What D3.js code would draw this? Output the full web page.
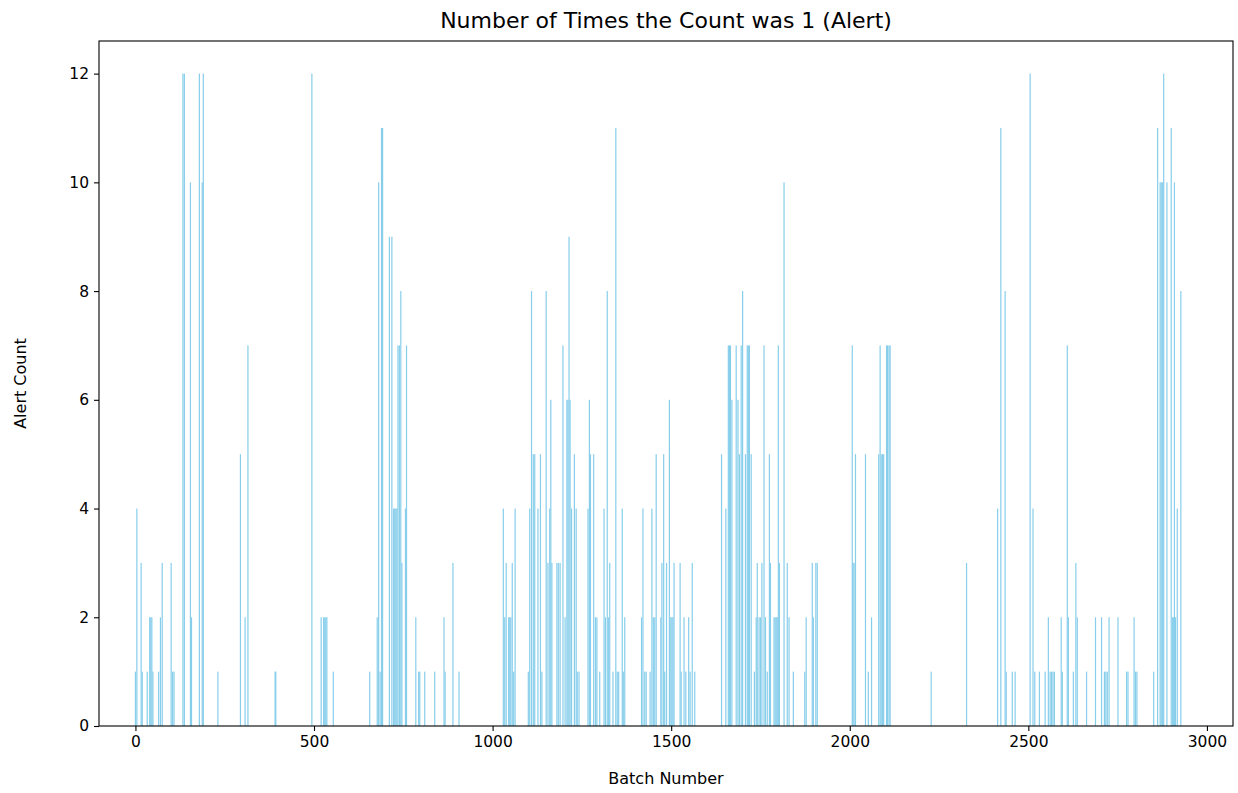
<!DOCTYPE html>
<html>
<head>
<meta charset="utf-8">
<script src="https://cdn.jsdelivr.net/npm/d3@7"></script>
<style>
  body { margin: 0; background: #fff; }
  text { font-family: "DejaVu Sans", sans-serif; }
</style>
</head>
<body>
<script>
// batch numbers and how many alerts each had
const batches = [
  0, 4, 16, 19, 33, 40, 43, 46, 49, 65, 70, 75, 100, 104, 108, 133, 137, 154, 157, 179, 187, 190,
  231, 294, 307, 315, 391, 393, 494, 520, 527, 530, 533, 536, 554,
  656, 677, 681, 685, 689, 692, 711, 718, 723, 726, 729, 732, 735, 739, 743, 746, 756, 759, 785, 793, 796, 810, 838, 864, 867, 889, 906,
  1030, 1034, 1038, 1045, 1048, 1051, 1055, 1059, 1063, 1100, 1104, 1109, 1114, 1118, 1127, 1134, 1138, 1150, 1155, 1160, 1163, 1166,
  1180, 1184, 1189, 1197, 1203, 1208, 1211, 1214, 1217, 1221, 1229, 1234,
  1237, 1242, 1267, 1271, 1274, 1283, 1288, 1292, 1300, 1312, 1316, 1321, 1325, 1328, 1337, 1345, 1349, 1353, 1363, 1366, 1370, 1417, 1421, 1426, 1430,
  1441, 1446, 1450, 1454, 1458, 1471, 1474, 1479, 1482, 1487, 1495, 1499, 1502, 1505, 1508, 1525, 1528, 1536, 1541, 1549, 1553, 1559, 1566,
  1641, 1653, 1660, 1663, 1666, 1670, 1682, 1687, 1691, 1696, 1700, 1708, 1713, 1716, 1719, 1724, 1733, 1738, 1741, 1746, 1750, 1754, 1760,
  1764, 1769, 1775, 1778, 1788, 1791, 1794, 1797, 1800, 1803, 1816, 1825, 1830, 1842, 1874, 1878, 1895, 1898, 1905, 1909,
  2007, 2009, 2012, 2016, 2044, 2052, 2061, 2081, 2085, 2088, 2092, 2095, 2103, 2106, 2110, 2113, 2228,
  2327, 2414, 2423, 2435, 2438, 2455, 2463, 2505, 2513, 2518, 2531, 2547, 2556, 2561, 2565, 2569, 2573,
  2592, 2595, 2609, 2612, 2626, 2633, 2637, 2663, 2688, 2705, 2713, 2717, 2721, 2726, 2751, 2775, 2779, 2796, 2800, 2804,
  2851, 2862, 2869, 2872, 2876, 2879, 2888, 2900, 2904, 2907, 2909, 2912, 2917, 2927
];
const alertCounts = [
  1, 4, 3, 1, 1, 2, 2, 2, 1, 1, 2, 3, 3, 1, 1, 12, 12, 10, 2, 12, 10, 12,
  1, 5, 2, 7, 1, 1, 12, 2, 2, 2, 2, 2, 1,
  1, 2, 10, 1, 11, 11, 9, 9, 4, 4, 4, 4, 7, 7, 8, 3, 4, 7, 2, 1, 1, 1, 1, 2, 1, 3, 1,
  4, 2, 3, 2, 2, 2, 3, 1, 4, 1, 4, 8, 5, 5, 4, 5, 1, 8, 3, 4, 6, 3,
  3, 3, 3, 7, 2, 6, 6, 9, 6, 4, 5, 4,
  1, 1, 4, 6, 5, 5, 2, 2, 1, 4, 2, 8, 2, 3, 1, 11, 1, 1, 4, 1, 2, 2, 4, 1, 1,
  1, 4, 2, 2, 5, 2, 3, 5, 1, 3, 6, 2, 2, 2, 3, 3, 1, 2, 1, 2, 1, 3, 1,
  5, 4, 7, 7, 7, 6, 7, 6, 5, 7, 8, 5, 7, 7, 7, 5, 1, 2, 3, 2, 2, 3, 7,
  2, 1, 5, 3, 2, 2, 2, 2, 7, 3, 10, 3, 2, 1, 1, 2, 3, 2, 3, 3,
  7, 3, 3, 5, 5, 1, 2, 5, 7, 5, 5, 5, 7, 7, 7, 7, 1,
  3, 4, 11, 8, 1, 1, 1, 12, 4, 1, 1, 1, 2, 1, 1, 1, 1,
  2, 1, 7, 2, 1, 3, 2, 1, 2, 2, 1, 1, 1, 2, 2, 1, 1, 2, 1, 1,
  1, 11, 10, 10, 10, 12, 10, 11, 2, 2, 10, 2, 4, 8
];
const xTicks = [0, 500, 1000, 1500, 2000, 2500, 3000];
const yTicks = [0, 2, 4, 6, 8, 10, 12];

const rows = batches.map((b, i) => ({ batch: b, count: alertCounts[i] }));

const width = 1238, height = 793;
const margin = { top: 41, right: 5, bottom: 67, left: 99 };

const svg = d3.select('body').append('svg')
  .attr('width', width)
  .attr('height', height);

const x = d3.scaleLinear()
  .domain([-102, 3073])
  .range([margin.left, width - margin.right]);

const y = d3.scaleLinear()
  .domain([0, 12.6])
  .range([height - margin.bottom, margin.top]);

// bars (matplotlib width 0.8, but at this scale that is sub-pixel)
const barW = Math.max(x(0.8) - x(0), 1.2);
svg.append('g')
  .selectAll('rect')
  .data(rows)
  .enter()
  .append('rect')
  .attr('x', d => x(d.batch) - barW / 2)
  .attr('y', d => y(d.count))
  .attr('width', barW)
  .attr('height', d => y(0) - y(d.count))
  .attr('fill', 'skyblue');

// axes
const xAxis = svg.append('g')
  .attr('transform', `translate(0,${height - margin.bottom})`)
  .call(d3.axisBottom(x).tickValues(xTicks).tickFormat(d3.format('d'))
    .tickSize(5).tickPadding(5).tickSizeOuter(0));

const yAxis = svg.append('g')
  .attr('transform', `translate(${margin.left},0)`)
  .call(d3.axisLeft(y).tickValues(yTicks).tickFormat(d3.format('d'))
    .tickSize(5).tickPadding(5).tickSizeOuter(0));

[xAxis, yAxis].forEach(g => {
  g.select('.domain').remove();
  g.selectAll('.tick line').attr('stroke', '#000').attr('stroke-width', 1.1);
  g.selectAll('.tick text').attr('fill', '#000').style('font-size', '15.5px');
});

// frame
svg.append('rect')
  .attr('x', margin.left)
  .attr('y', margin.top)
  .attr('width', width - margin.left - margin.right)
  .attr('height', height - margin.top - margin.bottom)
  .attr('fill', 'none')
  .attr('stroke', '#000')
  .attr('stroke-width', 1.1);

// title and labels
svg.append('text')
  .attr('x', (margin.left + width - margin.right) / 2)
  .attr('y', 28)
  .attr('text-anchor', 'middle')
  .style('font-size', '22px')
  .text('Number of Times the Count was 1 (Alert)');

svg.append('text')
  .attr('x', (margin.left + width - margin.right) / 2)
  .attr('y', 784)
  .attr('text-anchor', 'middle')
  .style('font-size', '16px')
  .text('Batch Number');

svg.append('text')
  .attr('transform', `translate(26,${(margin.top + height - margin.bottom) / 2}) rotate(-90)`)
  .attr('text-anchor', 'middle')
  .style('font-size', '16px')
  .text('Alert Count');
</script>
</body>
</html>
